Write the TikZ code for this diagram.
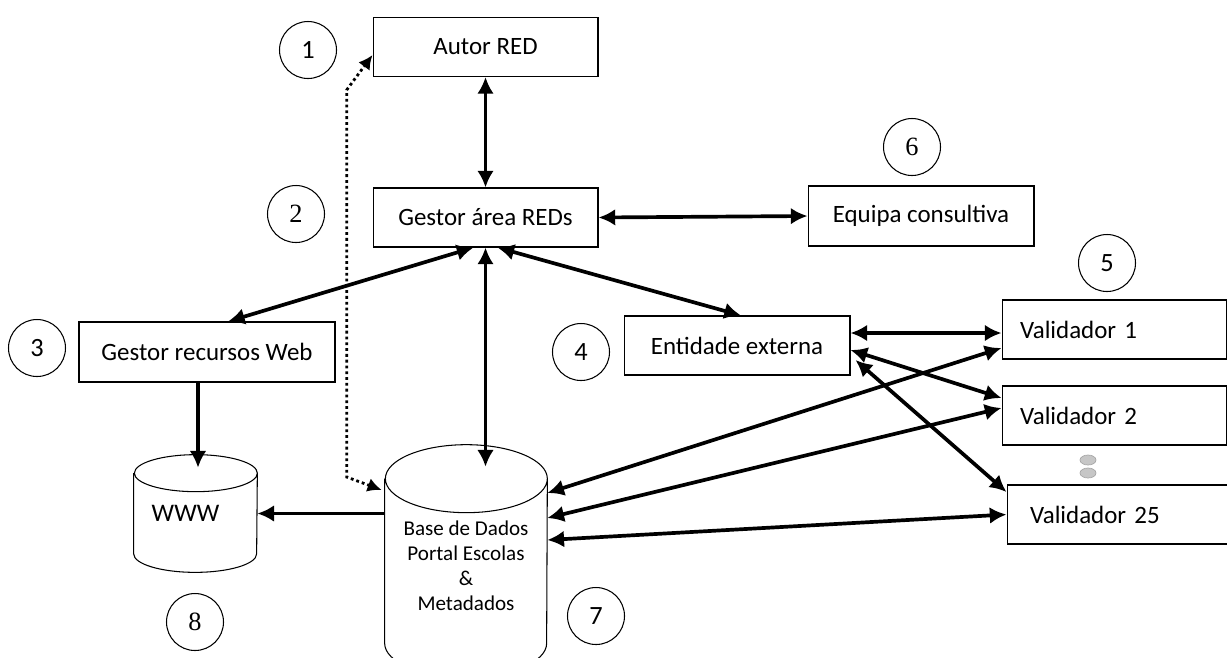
\documentclass[tikz,border=0pt]{standalone}
\usepackage{fontspec}
\setmainfont{Carlito}
\newfontfamily\numserif{Liberation Serif}
\usetikzlibrary{shapes.geometric, arrows.meta, positioning, calc}
\tikzset{
	block/.style={draw, line width=0.6pt, minimum width=4.5cm, minimum height=1.18cm, font=\fontsize{14.2}{17}\selectfont},
	valbox/.style={block, align=left, text width=3.78cm, inner xsep=0.36cm},
	store/.style={inner sep=0pt, align=center},
	drum/.style={line width=0.6pt},
	numcirc/.style={draw, circle, line width=0.6pt, minimum size=1.14cm, inner sep=0pt, font=\fontsize{15}{18}\selectfont},
	conn/.style={line width=2.1pt, {Latex[length=9.5pt,width=9.5pt]}-{Latex[length=9.5pt,width=9.5pt]}},
	oneway/.style={line width=2.1pt, -{Latex[length=9.5pt,width=9.5pt]}},
	dotconn/.style={line width=1.6pt, dash pattern=on 1.6pt off 1.7pt, {Latex[length=8pt,width=8pt]}-{Latex[length=8pt,width=8pt]}},
	dotmark/.style={ellipse, draw=gray!70, fill=gray!45, minimum width=0.32cm, minimum height=0.2cm, inner sep=0pt}
}
\begin{document}
\begin{tikzpicture}[x=0.02cm, y=-0.02cm]
		\useasboundingbox (0,0) rectangle (1227,657);
		
		% boxes
		\node[block] (autor) at (485.5,47) {Autor RED};
		\node[block] (gestor) at (485.5,217.5) {Gestor área REDs};
		\node[block, minimum width=4.52cm, minimum height=1.2cm] (equipa) at (921,216) {Equipa consultiva};
		\node[block, minimum width=5.12cm, minimum height=1.2cm] (recursos) at (207,352) {Gestor recursos Web};
		\node[block, minimum width=4.52cm] (entidade) at (737,345.5) {Entidade externa};
		\node[valbox] (val1) at (1114.5,329.5) {Validador 1};
		\node[valbox] (val2) at (1114.5,415.5) {Validador 2};
		\node[valbox, text width=3.58cm] (val25) at (1119.5,514.5) {Validador 25};
		
		% stores (cylinders drawn round the nodes)
		\node[store, minimum width=2.46cm, minimum height=2.34cm, font=\fontsize{14.4}{17}\selectfont] (www) at (195.5,513.5) {WWW\hspace{0.4cm}};
		\draw[drum] ([yshift=-0.37cm]www.north west) -- ([yshift=0.37cm]www.south west)
			arc[start angle=180, end angle=360, x radius=1.23cm, y radius=0.37cm]
			-- ([yshift=-0.37cm]www.north east)
			arc[start angle=0, end angle=360, x radius=1.23cm, y radius=0.37cm];
		\node[store, minimum width=3.24cm, minimum height=4.64cm, font=\fontsize{12}{14.2}\selectfont] (db) at (466,561) {\\Base de Dados\\Portal Escolas\\\&\\Metadados};
		\draw[drum] ([yshift=-0.68cm]db.north west) -- ([yshift=0.68cm]db.south west)
			arc[start angle=180, end angle=360, x radius=1.62cm, y radius=0.68cm]
			-- ([yshift=-0.68cm]db.north east)
			arc[start angle=0, end angle=360, x radius=1.62cm, y radius=0.68cm];
		
		% dots between validators
		\node[dotmark] (dotA) at (1088,460) {};
		\node[dotmark] (dotB) at (1088,473) {};
		
		% numbers
		\node[numcirc] (n1) at (308,50) {1};
		\node[numcirc, font=\numserif\fontsize{15}{18}\selectfont] (n2) at (296,214) {2};
		\node[numcirc] (n3) at (37,348) {3};
		\node[numcirc] (n4) at (581,352) {4};
		\node[numcirc] (n5) at (1107,263) {5};
		\node[numcirc, font=\numserif\fontsize{15}{18}\selectfont] (n6) at (912,147) {6};
		\node[numcirc] (n7) at (596,616) {7};
		\node[numcirc, font=\numserif\fontsize{15}{18}\selectfont] (n8) at (195,622) {8};
		
		% connectors
		\draw[conn] (autor.south) -- (gestor.north);
		\draw[conn] (gestor.east) -- (equipa.west);
		\draw[conn] ([xshift=-0.24cm]gestor.south) -- ([xshift=0.42cm]recursos.north);
		\draw[conn] (gestor.south) -- ($(gestor.south |- db.north)+(0,22)$);
		\draw[conn] ([xshift=0.24cm]gestor.south) -- ([xshift=0.08cm]entidade.north);
		\draw[oneway] ([xshift=-0.18cm]recursos.south) -- ($([xshift=-0.18cm]recursos.south |- www.north)+(0,13)$);
		\draw[oneway] (db.west |- www.east) -- (www.east);
		\draw[dotconn] ($(db.west)+(-3,-71)$) -- ++(-35,-13) -- ++(0,-387) -- ([yshift=-0.16cm]autor.west);
		
		\draw[conn] ([yshift=0.25cm]entidade.east) -- ([yshift=-0.07cm]val1.west);
		\draw[conn] ([yshift=-0.09cm]entidade.east) -- ([yshift=0.35cm]val2.west);
		\draw[conn] ([xshift=0.1cm,yshift=-0.29cm]entidade.east) -- ([yshift=0.45cm]val25.west);
		\draw[conn] ($(db.east)+(0,-68)$) -- ([yshift=-0.37cm]val1.west);
		\draw[conn] ($(db.east)+(0,-43)$) -- ([yshift=0.15cm]val2.west);
		\draw[conn] ($(db.east)+(0,-21)$) -- (val25.west);
	\end{tikzpicture}
\end{document}
